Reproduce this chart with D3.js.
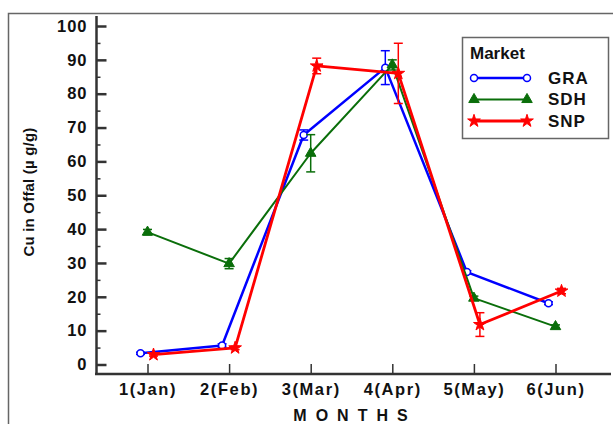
<!DOCTYPE html>
<html>
<head>
<meta charset="utf-8">
<script src="https://cdn.jsdelivr.net/npm/d3@7"></script>
<style>
  body { margin: 0; background: #fff; }
  text { font-family: "Liberation Sans", Arial, sans-serif; font-weight: bold; fill: #111; }
</style>
</head>
<body>
<div id="chart"></div>
<script>
// month labels and values
var months = ["1(Jan)", "2(Feb)", "3(Mar)", "4(Apr)", "5(May)", "6(Jun)"];
var monthIdx = [1, 2, 3, 4, 5, 6];
var yTicks = [0, 10, 20, 30, 40, 50, 60, 70, 80, 90, 100];
var yMinor = [5, 15, 25, 35, 45, 55, 65, 75, 85, 95];

var gra    = [3.3, 5.6, 67.8, 87.7, 27.3, 18.1];
var graErr = [0.3, 0.5, 1.5, 5.0, 0.4, 0.4];
var sdh    = [39.1, 29.8, 62.4, 88.5, 19.6, 11.2];
var sdhErr = [0.8, 1.5, 5.5, 1.5, 0.6, 0.5];
var snp    = [2.9, 4.9, 88.2, 86.0, 11.8, 21.7];
var snpErr = [0.4, 0.5, 2.3, 8.9, 3.5, 0.8];

var series = [
  {name: "GRA", values: gra, err: graErr, color: "#0000ff", shift: -7, width: 2.5, marker: "circle"},
  {name: "SDH", values: sdh, err: sdhErr, color: "#0a6e0a", shift: 0, width: 2, marker: "triangle"},
  {name: "SNP", values: snp, err: snpErr, color: "#ff0000", shift: 6, width: 2.8, marker: "star"}
];

var W = 613, H = 424;
var svg = d3.select("#chart").append("svg")
  .attr("width", W).attr("height", H);

// outer frame
svg.append("path")
  .attr("d", "M8.5," + H + "V13.5H" + W)
  .attr("fill", "none").attr("stroke", "#666").attr("stroke-width", 1.5);

var x = d3.scaleLinear().domain([1, 6]).range([147.5, 555.5]);
var y = d3.scaleLinear().domain([0, 100]).range([364.5, 26]);

var xAxisY = 374;

// y axis
svg.append("g")
  .attr("transform", "translate(96.5,0)")
  .call(d3.axisLeft(y).tickValues(yMinor).tickSize(-4).tickFormat(""))
  .call(function(g){ g.select(".domain").remove(); g.selectAll("line").attr("stroke", "#333").attr("stroke-width", 1.5); });

svg.append("g")
  .attr("transform", "translate(96.5,0)")
  .call(d3.axisLeft(y).tickValues(yTicks).tickSize(-10).tickPadding(9))
  .call(function(g){
    g.select(".domain").remove();
    g.selectAll("line").attr("stroke", "#333").attr("stroke-width", 2.5);
    g.selectAll("text").style("font-size", "16.5px").style("letter-spacing", "1px")
      .attr("font-family", null).attr("fill", "#111");
  });

// x axis
svg.append("g")
  .attr("transform", "translate(0," + xAxisY + ")")
  .call(d3.axisBottom(x).tickValues(monthIdx).tickSize(-10).tickPadding(9)
    .tickFormat(function(d){ return months[d - 1]; }))
  .call(function(g){
    g.select(".domain").remove();
    g.selectAll("line").attr("stroke", "#333").attr("stroke-width", 1.5);
    g.selectAll("text").style("font-size", "16.5px").style("letter-spacing", "1.6px")
      .attr("font-family", null).attr("fill", "#111");
  });

svg.append("line").attr("x1", 96.5).attr("x2", 96.5).attr("y1", 16).attr("y2", xAxisY + 1)
  .attr("stroke", "#333").attr("stroke-width", 2.5);
svg.append("line").attr("x1", 95).attr("x2", 611).attr("y1", xAxisY).attr("y2", xAxisY)
  .attr("stroke", "#333").attr("stroke-width", 2.5);

// axis titles
svg.append("text")
  .attr("transform", "translate(34,192) rotate(-90)")
  .attr("text-anchor", "middle")
  .style("font-size", "15px").style("letter-spacing", "0.2px")
  .text("Cu in Offal (\u00b5 g/g)");

svg.append("text")
  .attr("x", 355).attr("y", 421)
  .attr("text-anchor", "middle")
  .style("font-size", "16px").style("letter-spacing", "9px")
  .text("MONTHS");

var symbols = {
  triangle: d3.symbol().type(d3.symbolTriangle).size(48),
  star: d3.symbol().type(d3.symbolStar).size(50)
};

function drawMarker(sel, s) {
  if (s.marker === "circle") {
    sel.append("circle").attr("r", 3.5)
      .attr("fill", "#fff").attr("stroke", s.color).attr("stroke-width", 1.5);
  } else {
    sel.append("path").attr("d", symbols[s.marker]())
      .attr("fill", s.color).attr("stroke", s.color).attr("stroke-width", 1);
  }
}

var line = d3.line()
  .x(function(d){ return x(d.m) + d.shift; })
  .y(function(d){ return y(d.v); });

series.forEach(function(s){
  var pts = s.values.map(function(v, i){ return {m: monthIdx[i], v: v, e: s.err[i], shift: s.shift}; });
  var g = svg.append("g");

  // error bars
  var eb = g.selectAll(".eb").data(pts).enter().append("g")
    .attr("stroke", s.color).attr("stroke-width", 1.5);
  eb.append("line")
    .attr("x1", function(d){ return x(d.m) + d.shift; })
    .attr("x2", function(d){ return x(d.m) + d.shift; })
    .attr("y1", function(d){ return y(d.v + d.e); })
    .attr("y2", function(d){ return y(d.v - d.e); });
  [1, -1].forEach(function(sign){
    eb.append("line")
      .attr("x1", function(d){ return x(d.m) + d.shift - 4.5; })
      .attr("x2", function(d){ return x(d.m) + d.shift + 4.5; })
      .attr("y1", function(d){ return y(d.v + sign * d.e); })
      .attr("y2", function(d){ return y(d.v + sign * d.e); });
  });

  g.append("path").datum(pts)
    .attr("d", line)
    .attr("fill", "none").attr("stroke", s.color).attr("stroke-width", s.width)
    .attr("stroke-linejoin", "round");

  g.selectAll(".mk").data(pts).enter().append("g")
    .attr("transform", function(d){ return "translate(" + (x(d.m) + d.shift) + "," + y(d.v) + ")"; })
    .each(function(){ drawMarker(d3.select(this), s); });
});

// legend
var legend = svg.append("g");
legend.append("rect")
  .attr("x", 462.5).attr("y", 37.5).attr("width", 146).attr("height", 101)
  .attr("fill", "#fff").attr("stroke", "#666").attr("stroke-width", 1.5);
legend.append("text").attr("x", 470).attr("y", 59)
  .style("font-size", "17px").text("Market");

var legY = d3.scalePoint().domain(series.map(function(s){ return s.name; })).range([78, 121]);
series.forEach(function(s){
  var ly = legY(s.name);
  legend.append("line").attr("x1", 474).attr("x2", 527).attr("y1", ly).attr("y2", ly)
    .attr("stroke", s.color).attr("stroke-width", s.width);
  [474, 527].forEach(function(px){
    legend.append("g").attr("transform", "translate(" + px + "," + ly + ")")
      .call(function(gg){ drawMarker(gg, s); });
  });
  legend.append("text").attr("x", 548).attr("y", ly + 5.5)
    .style("font-size", "17px").style("letter-spacing", "1px").text(s.name);
});
</script>
</body>
</html>
